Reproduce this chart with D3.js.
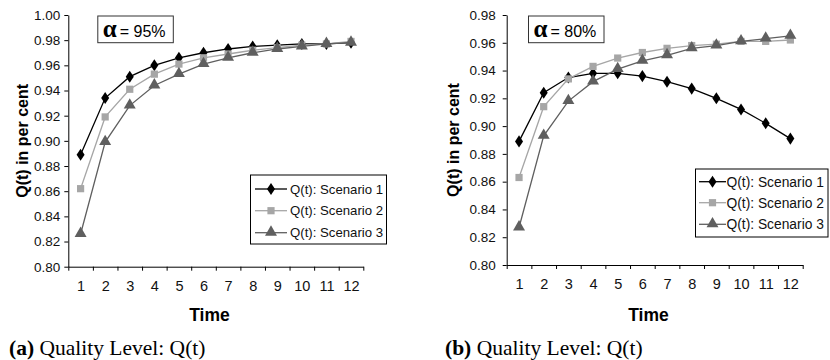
<!DOCTYPE html>
<html><head><meta charset="utf-8">
<script src="https://cdn.jsdelivr.net/npm/d3@7"></script>
<style>
body{margin:0;background:#fff;}
svg{display:block;font-family:Arial,"Liberation Sans",sans-serif;}
</style></head>
<body><svg id="c" width="830" height="360"></svg>
<script>
const times = [1,2,3,4,5,6,7,8,9,10,11,12];
const seriesNames = ["Q(t): Scenario 1","Q(t): Scenario 2","Q(t): Scenario 3"];
// Panel (a) alpha = 95%
const a_s1 = [0.889,0.934,0.951,0.960,0.966,0.970,0.973,0.975,0.976,0.977,0.977,0.978];
const a_s2 = [0.862,0.919,0.941,0.953,0.961,0.966,0.969,0.972,0.974,0.976,0.977,0.979];
const a_s3 = [0.826,0.899,0.928,0.944,0.953,0.961,0.966,0.970,0.973,0.975,0.977,0.978];
// Panel (b) alpha = 80%
const b_s1 = [0.889,0.924,0.935,0.938,0.938,0.936,0.932,0.927,0.920,0.912,0.902,0.891];
const b_s2 = [0.863,0.914,0.934,0.943,0.949,0.953,0.956,0.958,0.959,0.961,0.961,0.962];
const b_s3 = [0.827,0.893,0.918,0.932,0.941,0.947,0.951,0.956,0.958,0.961,0.963,0.965];
const a_yticks = [0.80,0.82,0.84,0.86,0.88,0.90,0.92,0.94,0.96,0.98,1.00];
const b_yticks = [0.80,0.82,0.84,0.86,0.88,0.90,0.92,0.94,0.96,0.98];

const svg = d3.select("#c");
const colors = ["#000000","#a6a6a6","#5f5f5f"];

function marker(g, k, x, y){
  if(k===0){
    g.append("path").attr("d", d3.symbol(d3.symbolDiamond, 42)()).attr("transform",`translate(${x},${y}) scale(1.15,1)`).attr("fill",colors[0]);
  } else if(k===1){
    g.append("path").attr("d", d3.symbol(d3.symbolSquare, 52)()).attr("transform",`translate(${x},${y})`).attr("fill",colors[1]);
  } else {
    g.append("path").attr("d", d3.symbol(d3.symbolTriangle, 62)()).attr("transform",`translate(${x},${y-0.5})`).attr("fill",colors[2]);
  }
}

function panel(cfg){
  const g = svg.append("g");
  const x = d3.scaleLinear().domain([0.5,12.5]).range([cfg.x0,cfg.x1]);
  const y = d3.scaleLinear().domain([0.80,cfg.ymax]).range([cfg.yb,cfg.yt]);
  const ya = g.append("g").attr("transform",`translate(${cfg.x0},0)`)
    .call(d3.axisLeft(y).tickValues(cfg.yticks).tickFormat(d3.format(".2f")).tickSize(4).tickSizeOuter(0).tickPadding(cfg.ypad));
  ya.selectAll("text").attr("font-size",13.5).attr("fill","#111").attr("font-family","Arial, 'Liberation Sans', sans-serif");
  const boundaries = d3.range(0.5,13,1);
  g.append("g").attr("transform",`translate(0,${cfg.yb})`)
    .call(d3.axisBottom(x).tickValues(boundaries).tickSize(4).tickSizeOuter(0).tickFormat(""));
  const xl = g.append("g").attr("transform",`translate(0,${cfg.yb})`)
    .call(d3.axisBottom(x).tickValues(times).tickSize(0).tickPadding(14).tickFormat(d3.format("d")));
  xl.select(".domain").remove();
  xl.selectAll("text").attr("font-size",14.5).attr("fill","#111").attr("font-family","Arial, 'Liberation Sans', sans-serif");
  g.selectAll(".domain").attr("stroke","#000");
  g.selectAll(".tick line").attr("stroke","#000");
  cfg.data.forEach((vals,k)=>{
    const line = d3.line().x((d,i)=>x(times[i])).y(d=>y(d));
    g.append("path").attr("d",line(vals)).attr("fill","none").attr("stroke",colors[k]).attr("stroke-width",1.3);
  });
  cfg.data.forEach((vals,k)=>{
    vals.forEach((v,i)=>marker(g,k,x(times[i]),y(v)));
  });
  g.append("text").attr("x",cfg.timeX).attr("y",320.5).attr("text-anchor","middle")
    .attr("font-size",17.5).attr("font-weight","bold").text("Time");
  g.append("text").attr("transform",`translate(${cfg.ytX},${(cfg.yt+cfg.yb)/2}) rotate(-90)`)
    .attr("text-anchor","middle").attr("dy","0.35em").attr("font-size",16).attr("font-weight","bold").text("Q(t) in per cent");
  g.append("rect").attr("x",cfg.ax).attr("y",16).attr("width",75.5).attr("height",26.7)
    .attr("fill","#fff").attr("stroke","#333").attr("stroke-width",1);
  const at = g.append("text").attr("x",cfg.ax+5).attr("y",36.5);
  at.append("tspan").attr("font-family","'Liberation Serif','Times New Roman',serif").attr("font-weight","bold").attr("font-size",25).text("α");
  at.append("tspan").attr("font-size",16).attr("dx",3).text("= "+cfg.alpha);
  const L = cfg.leg;
  g.append("rect").attr("x",L.x).attr("y",L.y).attr("width",L.w).attr("height",L.h)
    .attr("fill","#fff").attr("stroke","#000").attr("stroke-width",1);
  seriesNames.forEach((nm,k)=>{
    const ry = L.rows[k];
    g.append("line").attr("x1",L.l1).attr("x2",L.l2).attr("y1",ry).attr("y2",ry).attr("stroke",colors[k]).attr("stroke-width",1.3);
    marker(g,k,(L.l1+L.l2)/2,ry);
    g.append("text").attr("x",L.tx).attr("y",ry).attr("dy","0.36em").attr("font-size",L.fs).attr("fill","#111").text(nm);
  });
  const cap = g.append("text").attr("x",cfg.capX).attr("y",355).attr("font-family","'Liberation Serif','Times New Roman',serif").attr("font-size",21.5);
  cap.append("tspan").attr("font-weight","bold").text(cfg.capL);
  cap.append("tspan").text(" Quality Level: Q(t)");
}

panel({x0:68.3,x1:363.3,yt:15,yb:266.7,ymax:1.00,yticks:a_yticks,ypad:4,data:[a_s1,a_s2,a_s3],
  timeX:209.5,ytX:22,ax:97.8,alpha:"95%",
  leg:{x:250.5,y:175,w:136,h:69,rows:[189,210.7,232.7],l1:255,l2:287,tx:290,fs:13.2},
  capX:9,capL:"(a)"});
panel({x0:506.7,x1:802.7,yt:15,yb:265,ymax:0.98,yticks:b_yticks,ypad:7,data:[b_s1,b_s2,b_s3],
  timeX:648.5,ytX:453,ax:528.5,alpha:"80%",
  leg:{x:695.5,y:169,w:132.5,h:68,rows:[181.7,202.7,224.3],l1:699,l2:726,tx:726.5,fs:13.8},
  capX:445,capL:"(b)"});
</script></body></html>
